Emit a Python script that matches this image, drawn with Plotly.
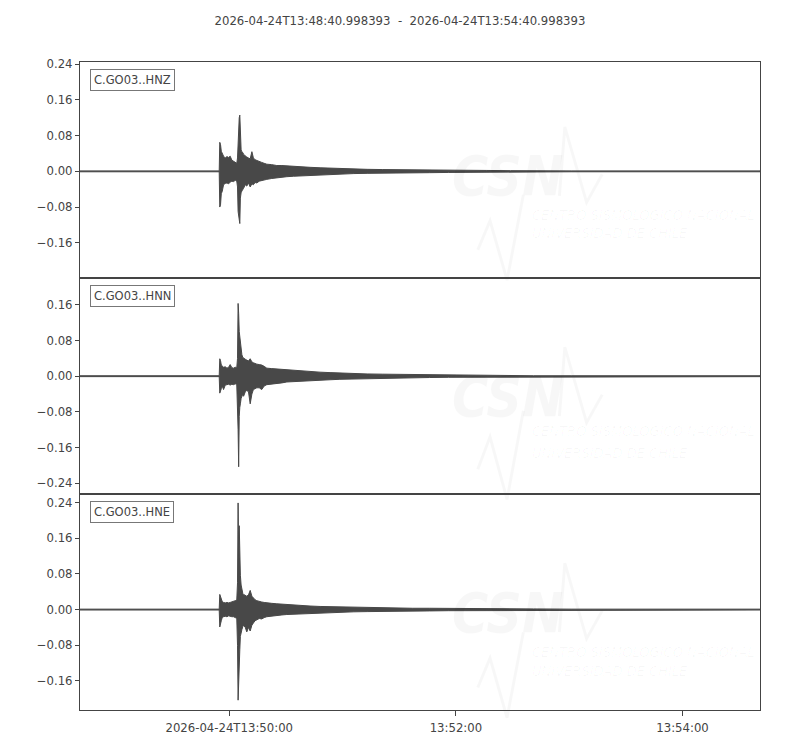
import pandas as pd
import plotly.graph_objects as go
from plotly.subplots import make_subplots

start = "2026-04-24T13:48:40.998393"
end = "2026-04-24T13:54:40.998393"
channels = ["C.GO03..HNZ", "C.GO03..HNN", "C.GO03..HNE"]

# seconds after start, shared by all envelopes
t_sec = [0, 73.7, 74.0, 74.4, 74.8, 75.3, 76.0, 76.9, 77.8, 78.7, 79.5, 80.4, 81.3,
         82.2, 83.0, 83.4, 83.7, 84.0, 84.3, 84.6, 84.9, 85.3, 85.7, 86.2, 86.6,
         87.5, 88.3, 89.2, 90.1, 91.0, 91.8, 92.7, 93.6, 94.9, 96.2, 97.5, 98.9,
         101.5, 104.2, 106.9, 109.5, 113, 116.5, 121.8, 127.1, 132.4, 137.6, 145,
         152, 160, 168, 176, 185, 195, 205, 215, 228, 240, 260, 360]

# min/max envelope of each trace (m/s^2)
hnz_max = [0.001, 0.001, 0.065, 0.060, 0.045, 0.040, 0.034, 0.030, 0.033, 0.031, 0.034, 0.025, 0.022,
           0.020, 0.018, 0.030, 0.070, 0.100, 0.120, 0.126, 0.060, 0.048, 0.044, 0.042, 0.038,
           0.034, 0.032, 0.030, 0.028, 0.044, 0.030, 0.026, 0.024, 0.022, 0.020, 0.018, 0.016,
           0.015, 0.013, 0.013, 0.012, 0.011, 0.010, 0.009, 0.008, 0.007, 0.006, 0.005,
           0.0045, 0.004, 0.0035, 0.003, 0.003, 0.0025, 0.002, 0.002, 0.0015, 0.001, 0.001, 0.001]
hnz_min = [-0.001, -0.001, -0.080, -0.075, -0.050, -0.045, -0.030, -0.027, -0.026, -0.028, -0.024, -0.022, -0.023,
           -0.020, -0.022, -0.035, -0.090, -0.105, -0.110, -0.117, -0.060, -0.048, -0.044, -0.040, -0.038,
           -0.030, -0.033, -0.026, -0.035, -0.028, -0.030, -0.025, -0.026, -0.022, -0.020, -0.019, -0.018,
           -0.016, -0.014, -0.013, -0.012, -0.011, -0.010, -0.009, -0.008, -0.007, -0.006, -0.005,
           -0.0045, -0.004, -0.0035, -0.003, -0.003, -0.0025, -0.002, -0.002, -0.0015, -0.001, -0.001, -0.001]

hnn_max = [0.001, 0.001, 0.039, 0.035, 0.025, 0.022, 0.020, 0.021, 0.018, 0.020, 0.026, 0.019, 0.018,
           0.020, 0.019, 0.040, 0.163, 0.140, 0.100, 0.085, 0.070, 0.055, 0.048, 0.042, 0.040,
           0.038, 0.036, 0.034, 0.039, 0.032, 0.030, 0.028, 0.027, 0.026, 0.025, 0.022, 0.018,
           0.017, 0.016, 0.015, 0.014, 0.013, 0.012, 0.010, 0.009, 0.008, 0.007, 0.006,
           0.005, 0.0045, 0.004, 0.0035, 0.003, 0.0025, 0.002, 0.002, 0.0015, 0.001, 0.001, 0.001]
hnn_min = [-0.001, -0.001, -0.038, -0.034, -0.028, -0.022, -0.030, -0.020, -0.019, -0.018, -0.020, -0.018, -0.019,
           -0.017, -0.020, -0.050, -0.120, -0.203, -0.090, -0.070, -0.062, -0.050, -0.046, -0.040, -0.045,
           -0.035, -0.032, -0.035, -0.062, -0.040, -0.030, -0.028, -0.026, -0.026, -0.030, -0.022, -0.019,
           -0.017, -0.016, -0.015, -0.013, -0.012, -0.011, -0.010, -0.009, -0.008, -0.007, -0.006,
           -0.005, -0.0045, -0.004, -0.0035, -0.003, -0.0025, -0.002, -0.002, -0.0015, -0.001, -0.001, -0.001]

hne_max = [0.001, 0.001, 0.034, 0.030, 0.022, 0.018, 0.016, 0.015, 0.016, 0.015, 0.016, 0.017, 0.018,
           0.020, 0.022, 0.060, 0.239, 0.120, 0.188, 0.100, 0.077, 0.055, 0.040, 0.036, 0.034,
           0.032, 0.030, 0.033, 0.043, 0.030, 0.025, 0.022, 0.020, 0.018, 0.017, 0.016, 0.015,
           0.014, 0.013, 0.012, 0.011, 0.010, 0.009, 0.008, 0.007, 0.0065, 0.006, 0.005,
           0.0045, 0.004, 0.0035, 0.003, 0.003, 0.0025, 0.002, 0.002, 0.0015, 0.0015, 0.001, 0.001]
hne_min = [-0.001, -0.001, -0.039, -0.035, -0.025, -0.018, -0.016, -0.015, -0.016, -0.014, -0.015, -0.016, -0.016,
           -0.018, -0.020, -0.080, -0.203, -0.150, -0.120, -0.090, -0.060, -0.050, -0.045, -0.038, -0.036,
           -0.040, -0.050, -0.040, -0.048, -0.035, -0.030, -0.025, -0.022, -0.020, -0.021, -0.018, -0.016,
           -0.014, -0.013, -0.012, -0.011, -0.010, -0.009, -0.008, -0.007, -0.0065, -0.006, -0.005,
           -0.0045, -0.004, -0.0035, -0.003, -0.003, -0.0025, -0.002, -0.002, -0.0015, -0.0015, -0.001, -0.001]

y_ranges = [[-0.239, 0.245], [-0.264, 0.220], [-0.225, 0.259]]
xtick_vals = ["2026-04-24 13:50:00", "2026-04-24 13:52:00", "2026-04-24 13:54:00"]
xtick_text = ["2026-04-24T13:50:00", "13:52:00", "13:54:00"]

times = pd.Timestamp(start) + pd.to_timedelta(t_sec, unit="s")
times = [t.strftime("%Y-%m-%d %H:%M:%S.%f") for t in times]

ink = "#484848"
frame = "#444444"
font = "DejaVu Sans"
water = "rgba(0,0,0,0.03)"
narrow = "DejaVu Sans Condensed, Liberation Sans"

# watermark vertical placement (fraction of panel height): logo, line 1, line 2
wm_y = [(0.47, 0.245, 0.16), (0.45, 0.245, 0.145), (0.45, 0.22, 0.134)]

fig = make_subplots(rows=3, cols=1, shared_xaxes=True, vertical_spacing=0)

envelopes = [(hnz_max, hnz_min), (hnn_max, hnn_min), (hne_max, hne_min)]
for i, (up, lo) in enumerate(envelopes):
    row = i + 1
    sx = "" if row == 1 else str(row)
    xd, yd = f"x{sx} domain", f"y{sx} domain"
    ly, l1, l2 = wm_y[i]

    # faint CSN watermark behind the trace
    fig.add_annotation(xref=xd, yref=yd, x=0.628, y=ly, text="CSN", showarrow=False,
                       font=dict(family=narrow, size=55, color=water,
                                 weight="bold", style="italic"))
    fig.add_annotation(xref=xd, yref=yd, x=0.662, y=l1, xanchor="left",
                       text="CENTRO SISMOLÓGICO NACIONAL", showarrow=False,
                       font=dict(family=narrow, size=14.5, color=water, style="italic"))
    fig.add_annotation(xref=xd, yref=yd, x=0.662, y=l2, xanchor="left",
                       text="UNIVERSIDAD DE CHILE", showarrow=False,
                       font=dict(family=narrow, size=14.5, color=water, style="italic"))
    fig.add_shape(type="path", xref=xd, yref=yd, layer="below",
                  path=f"M 0.705 {ly - 0.09} L 0.713 {ly + 0.23} L 0.745 {ly - 0.12} L 0.768 {ly + 0.01}",
                  line=dict(color=water, width=3))
    fig.add_shape(type="path", xref=xd, yref=yd, layer="below",
                  path=f"M 0.585 {l2 - 0.03} L 0.603 {l1 + 0.02} L 0.628 {l2 - 0.17} L 0.652 {l1 + 0.14}",
                  line=dict(color=water, width=3))

    fig.add_trace(go.Scatter(
        x=times + times[::-1], y=up + lo[::-1],
        mode="lines", fill="toself", fillcolor=ink,
        line=dict(color=ink, width=1), hoverinfo="skip", showlegend=False),
        row=row, col=1)

    # channel label box
    fig.add_annotation(xref=xd, yref=yd, x=0.0147, y=0.968, xanchor="left", yanchor="top",
                       text=channels[i], showarrow=False,
                       font=dict(family=font, size=11.5, color="#444"),
                       bgcolor="white", bordercolor="#777", borderwidth=1, borderpad=3)

    fig.update_yaxes(range=y_ranges[i], dtick=0.08, tick0=0, tickformat=".2f",
                     row=row, col=1)

fig.update_yaxes(showline=True, mirror=True, linecolor=frame, linewidth=1.2,
                 ticks="outside", ticklen=4, tickcolor=frame, showgrid=False,
                 zeroline=False, tickfont=dict(family=font, size=11.7, color="#444"))
fig.update_xaxes(type="date", range=[start.replace("T", " "), end.replace("T", " ")],
                 showline=True, mirror=True, linecolor=frame, linewidth=1.2,
                 showgrid=False, zeroline=False, tickvals=xtick_vals, ticktext=xtick_text,
                 tickfont=dict(family=font, size=11.7, color="#444"))
fig.update_xaxes(ticks="", showticklabels=False, row=1, col=1)
fig.update_xaxes(ticks="", showticklabels=False, row=2, col=1)
fig.update_xaxes(ticks="outside", ticklen=5, tickcolor=frame, showticklabels=True,
                 ticklabelstandoff=2, row=3, col=1)

# page body adds a small offset, so the figure is a bit smaller than the window
fig.update_layout(
    width=784, height=739,
    margin=dict(l=72, r=32, t=54, b=30),
    paper_bgcolor="white", plot_bgcolor="white",
    showlegend=False,
    title=dict(text=f"{start}  -  {end}", x=(400 - 8) / 784, xanchor="center",
               y=1 - 13 / 739, yanchor="middle",
               font=dict(family=font, size=11.7, color="#444")),
)

fig.write_html("out.html")
